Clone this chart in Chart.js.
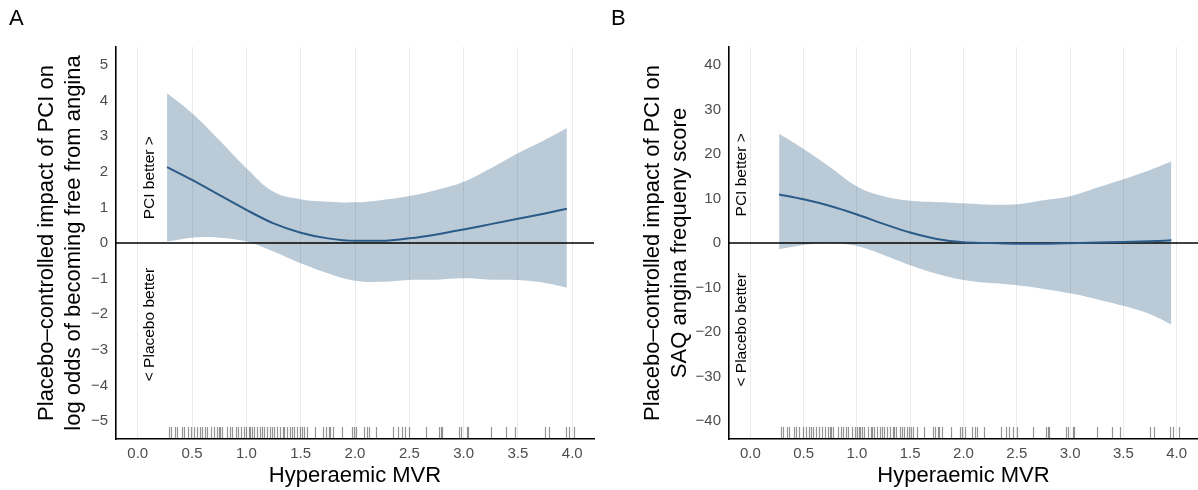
<!DOCTYPE html>
<html>
<head>
<meta charset="utf-8">
<script src="https://cdn.jsdelivr.net/npm/chart.js@4.4.1/dist/chart.umd.min.js"></script>
<style>
  html, body { margin: 0; padding: 0; background: #fff; }
  #wrap { position: relative; width: 1198px; height: 490px; overflow: hidden; font-family: "Liberation Sans", Arial, sans-serif; }
  .panel { position: absolute; top: 0; width: 599px; height: 490px; }
  .tag { position: absolute; top: 5px; font-size: 22px; color: #000; }
</style>
</head>
<body>
<div id="wrap">
  <div class="panel" style="left:0"><canvas id="chartA" width="599" height="490"></canvas></div>
  <div class="panel" style="left:599px"><canvas id="chartB" width="599" height="490"></canvas></div>
  <div class="tag" style="left:9px">A</div>
  <div class="tag" style="left:611px">B</div>
</div>
<script>
// ---- data ----
const xGrid  = [0.27, 0.5, 0.75, 1.0, 1.25, 1.5, 1.75, 2.0, 2.25, 2.5, 2.75, 3.0, 3.25, 3.5, 3.75, 3.95];

// A: log odds of becoming free from angina
const estA   = [2.13, 1.77, 1.35, 0.93, 0.55, 0.29, 0.13, 0.06, 0.06, 0.13, 0.24, 0.38, 0.53, 0.68, 0.83, 0.96];
const upperA = [4.20, 3.64, 2.89, 2.10, 1.44, 1.23, 1.16, 1.14, 1.21, 1.32, 1.49, 1.72, 2.10, 2.52, 2.90, 3.22];
const lowerA = [0.04, 0.15, 0.15, 0.04, -0.24, -0.57, -0.85, -1.06, -1.09, -1.04, -1.03, -0.99, -1.03, -1.04, -1.12, -1.25];

// B: SAQ angina frequency score
const estB   = [10.9, 9.8, 8.3, 6.4, 4.3, 2.35, 0.9, 0.15, 0.0, -0.15, -0.15, -0.05, 0.1, 0.25, 0.4, 0.6];
const upperB = [24.5, 21.1, 17.0, 12.7, 10.5, 9.5, 9.2, 8.9, 8.6, 8.7, 9.6, 10.5, 12.4, 14.3, 16.4, 18.3];
const lowerB = [-1.4, -0.45, 0.0, -0.7, -2.7, -5.0, -6.9, -8.3, -9.0, -9.5, -10.3, -11.3, -12.6, -14.1, -16.0, -18.3];

// rug: observed hyperaemic MVR values
const rugX = [0.29, 0.31, 0.34, 0.36, 0.41, 0.43, 0.46, 0.49, 0.52, 0.55, 0.57, 0.59, 0.62, 0.64, 0.67, 0.70,
  0.73, 0.75, 0.76, 0.78, 0.82, 0.85, 0.87, 0.90, 0.92, 0.95, 0.98, 1.00, 1.02, 1.03, 1.05, 1.07, 1.10,
  1.13, 1.14, 1.16, 1.19, 1.22, 1.24, 1.25, 1.28, 1.31, 1.34, 1.35, 1.37, 1.40, 1.42, 1.44, 1.47, 1.49,
  1.51, 1.53, 1.56, 1.63, 1.71, 1.73, 1.76, 1.77, 1.80, 1.88, 1.97, 1.99, 2.01, 2.08, 2.11, 2.13, 2.19,
  2.35, 2.40, 2.43, 2.46, 2.50, 2.65, 2.77, 2.79, 2.80, 2.96, 2.98, 3.03, 3.04, 3.25, 3.39, 3.47, 3.75,
  3.79, 3.94, 3.97, 4.02];

const xTicks = [0, 0.5, 1, 1.5, 2, 2.5, 3, 3.5, 4];
const xTickLabels = ['0.0', '0.5', '1.0', '1.5', '2.0', '2.5', '3.0', '3.5', '4.0'];
const yTicksA = [-5, -4, -3, -2, -1, 0, 1, 2, 3, 4, 5];
const yTicksB = [-40, -30, -20, -10, 0, 10, 20, 30, 40];

const xMin = -0.2, xMax = 4.2;

const FONT = '"Liberation Sans", Arial, sans-serif';
const BAND = 'rgba(31,78,121,0.30)';
const LINE = '#2a5b89';

function pts(ys) { return xGrid.map((x, i) => ({ x, y: ys[i] })); }

// ---- plugins ----
const rugPlugin = {
  id: 'rug',
  afterDatasetsDraw(chart) {
    const { ctx, chartArea, scales: { x } } = chart;
    ctx.save();
    ctx.strokeStyle = 'rgba(0,0,0,0.42)';
    ctx.lineWidth = 1.2;
    rugX.forEach(v => {
      const px = Math.round(x.getPixelForValue(v)) + 0.5;
      ctx.beginPath();
      ctx.moveTo(px, chartArea.bottom);
      ctx.lineTo(px, chartArea.bottom - 12);
      ctx.stroke();
    });
    ctx.restore();
  }
};

const notesPlugin = {
  id: 'notes',
  afterDatasetsDraw(chart, args, opts) {
    const { ctx, scales: { x, y } } = chart;
    ctx.save();
    ctx.font = '15.5px ' + FONT;
    ctx.fillStyle = '#000';
    ctx.textAlign = 'center';
    ctx.textBaseline = 'middle';
    opts.items.forEach(it => {
      ctx.save();
      ctx.translate(x.getPixelForValue(opts.x), y.getPixelForValue(it.y));
      ctx.rotate(-Math.PI / 2);
      ctx.fillText(it.text, 0, 0);
      ctx.restore();
    });
    ctx.restore();
  }
};

// ---- chart builder ----
function makeChart(id, est, upper, lower, yMin, yMax, yTicks, yTitle, yWidth, titlePad, rightPad, notes) {
  const ctx = document.getElementById(id).getContext('2d');
  return new Chart(ctx, {
    type: 'line',
    data: {
      datasets: [
        { data: pts(upper), borderWidth: 0, pointRadius: 0, fill: '+1', backgroundColor: BAND, tension: 0.4, order: 3 },
        { data: pts(lower), borderWidth: 0, pointRadius: 0, fill: false, tension: 0.4, order: 3 },
        { data: [{ x: xMin, y: 0 }, { x: xMax, y: 0 }], borderColor: '#000', borderWidth: 1.6, pointRadius: 0, fill: false, order: 2 },
        { data: pts(est), borderColor: LINE, borderWidth: 2, pointRadius: 0, fill: false, cubicInterpolationMode: 'monotone', order: 1 }
      ]
    },
    options: {
      responsive: false,
      animation: false,
      layout: { padding: { top: 47, right: rightPad, left: 0, bottom: 0 } },
      plugins: {
        legend: { display: false },
        tooltip: { enabled: false },
        notes: notes
      },
      scales: {
        x: {
          type: 'linear',
          min: xMin, max: xMax,
          afterBuildTicks: s => { s.ticks = xTicks.map(v => ({ value: v })); },
          afterFit: s => { s.height = 51; },
          ticks: {
            callback: (v, i) => xTickLabels[i],
            color: '#4d4d4d', font: { family: FONT, size: 15 }, padding: 6, maxRotation: 0
          },
          grid: { color: '#ebebeb', lineWidth: 1, drawTicks: false },
          border: { display: true, color: '#000', width: 1.6 },
          title: { display: true, text: 'Hyperaemic MVR', color: '#000', font: { family: FONT, size: 22 }, padding: { top: 0, bottom: 1 } }
        },
        y: {
          type: 'linear',
          min: yMin, max: yMax,
          afterBuildTicks: s => { s.ticks = yTicks.map(v => ({ value: v })); },
          afterFit: s => { s.width = yWidth; },
          ticks: {
            callback: v => String(v).replace('-', '\u2212'),
            color: '#4d4d4d', font: { family: FONT, size: 15 }, padding: 8
          },
          grid: { display: false, drawTicks: false },
          border: { display: true, color: '#000', width: 1.6 },
          title: { display: true, text: yTitle, color: '#000', font: { family: FONT, size: 22, lineHeight: 1.2 }, padding: { top: titlePad, bottom: 0 } }
        }
      }
    },
    plugins: [rugPlugin, notesPlugin]
  });
}

makeChart('chartA', estA, upperA, lowerA, -5.5, 5.5, yTicksA,
  ['Placebo\u2013controlled impact of PCI on', 'log odds of becoming free from angina'], 116, 34, 5,
  { x: 0.11, items: [{ y: 1.83, text: 'PCI better >' }, { y: -2.29, text: '< Placebo better' }] });

makeChart('chartB', estB, upperB, lowerB, -44, 44, yTicksB,
  ['Placebo\u2013controlled impact of PCI on', 'SAQ angina frequeny score'], 130, 41, 0,
  { x: -0.08, items: [{ y: 15.3, text: 'PCI better >' }, { y: -19.5, text: '< Placebo better' }] });
</script>
</body>
</html>
